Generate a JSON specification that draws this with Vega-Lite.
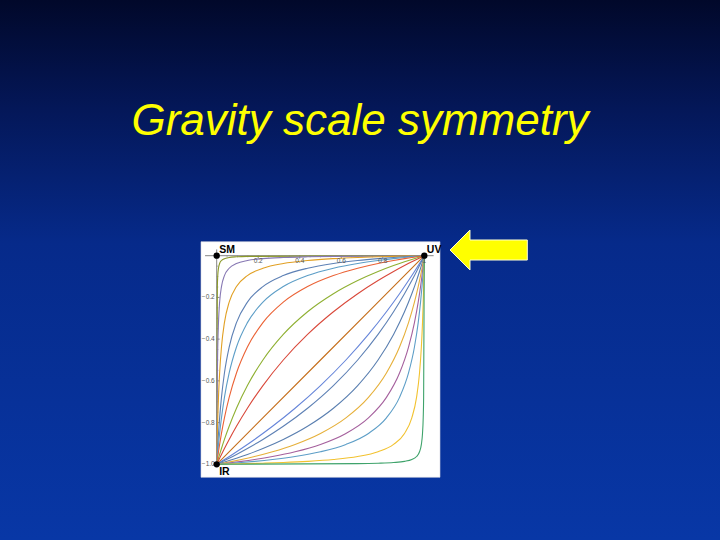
{
  "$schema": "https://vega.github.io/schema/vega-lite/v6.json",
  "width": 720,
  "height": 540,
  "autosize": {"type": "fit", "contains": "padding"},
  "padding": 0,
  "background": "#06207a",
  "view": {
    "stroke": null,
    "fill": {
      "gradient": "linear", "x1": 0, "y1": 0, "x2": 0, "y2": 1,
      "stops": [
        {"offset": 0, "color": "#01082a"},
        {"offset": 0.2, "color": "#041758"},
        {"offset": 0.45, "color": "#062a8a"},
        {"offset": 1, "color": "#0837a6"}
      ]
    }
  },
  "title": {
    "text": "Gravity scale symmetry",
    "anchor": "middle",
    "frame": "group",
    "offset": -179,
    "baseline": "alphabetic",
    "font": "Liberation Sans",
    "fontSize": 44,
    "fontStyle": "italic",
    "fontWeight": "normal",
    "color": "#FFFF00"
  },
  "datasets": {
    "panel": [{"x": -0.0756, "x2": 1.0756, "y": 0.0671, "y2": -1.0623}],
    "axislines": [
      {"x": -0.056, "x2": 1.045, "y": 0, "y2": 0},
      {"x": 0, "x2": 0, "y": 0.03, "y2": -1.0}
    ],
    "xmajor": [{"v":0.2,"t":"0.2"},{"v":0.4,"t":"0.4"},{"v":0.6,"t":"0.6"},{"v":0.8,"t":"0.8"},{"v":1,"t":"1"}],
    "xminor": [{"v":0.05},{"v":0.1},{"v":0.15},{"v":0.25},{"v":0.3},{"v":0.35},{"v":0.45},{"v":0.5},{"v":0.55},{"v":0.65},{"v":0.7},{"v":0.75},{"v":0.85},{"v":0.9},{"v":0.95}],
    "ymajor": [{"v":-0.2,"t":"−0.2"},{"v":-0.4,"t":"−0.4"},{"v":-0.6,"t":"−0.6"},{"v":-0.8,"t":"−0.8"},{"v":-1,"t":"−1.0"}],
    "yminor": [{"v":-0.05},{"v":-0.1},{"v":-0.15},{"v":-0.25},{"v":-0.3},{"v":-0.35},{"v":-0.45},{"v":-0.5},{"v":-0.55},{"v":-0.65},{"v":-0.7},{"v":-0.75},{"v":-0.85},{"v":-0.9},{"v":-0.95}],
    "fixed": [
      {"n": "SM", "x": 0, "y": 0},
      {"n": "UV", "x": 1, "y": 0},
      {"n": "IR", "x": 0, "y": -1}
    ],
    "arrow": [{"n": "arrow", "x": 1.31, "y": 0.0273}],
    "curves": [
      {"c":"u1","x":0,"y":-1},{"c":"u1","x":0.0032,"y":-0.1480},{"c":"u1","x":0.0052,"y":-0.0953},{"c":"u1","x":0.0086,"y":-0.0601},{"c":"u1","x":0.0141,"y":-0.0373},{"c":"u1","x":0.0230,"y":-0.0230},{"c":"u1","x":0.0373,"y":-0.0141},{"c":"u1","x":0.0601,"y":-0.0086},{"c":"u1","x":0.0953,"y":-0.0052},{"c":"u1","x":0.1480,"y":-0.0032},{"c":"u1","x":1,"y":0},

      {"c":"u2","x":0,"y":-1},{"c":"u2","x":0.0032,"y":-0.5622},{"c":"u2","x":0.0052,"y":-0.4378},{"c":"u2","x":0.0086,"y":-0.3208},{"c":"u2","x":0.0141,"y":-0.2227},{"c":"u2","x":0.0230,"y":-0.1480},{"c":"u2","x":0.0373,"y":-0.0953},{"c":"u2","x":0.0601,"y":-0.0601},{"c":"u2","x":0.0953,"y":-0.0373},{"c":"u2","x":0.1480,"y":-0.0230},{"c":"u2","x":0.2227,"y":-0.0141},{"c":"u2","x":0.3208,"y":-0.0086},{"c":"u2","x":0.4378,"y":-0.0052},{"c":"u2","x":0.5622,"y":-0.0032},{"c":"u2","x":1,"y":0},

      {"c":"u3","x":0,"y":-1},{"c":"u3","x":0.0032,"y":-0.8520},{"c":"u3","x":0.0052,"y":-0.7773},{"c":"u3","x":0.0086,"y":-0.6792},{"c":"u3","x":0.0141,"y":-0.5622},{"c":"u3","x":0.0230,"y":-0.4378},{"c":"u3","x":0.0373,"y":-0.3208},{"c":"u3","x":0.0601,"y":-0.2227},{"c":"u3","x":0.0953,"y":-0.1480},{"c":"u3","x":0.1480,"y":-0.0953},{"c":"u3","x":0.2227,"y":-0.0601},{"c":"u3","x":0.3208,"y":-0.0373},{"c":"u3","x":0.4378,"y":-0.0230},{"c":"u3","x":0.5622,"y":-0.0141},{"c":"u3","x":0.6792,"y":-0.0086},{"c":"u3","x":0.7773,"y":-0.0052},{"c":"u3","x":0.8520,"y":-0.0032},{"c":"u3","x":1,"y":0},

      {"c":"u4","x":0,"y":-1},{"c":"u4","x":0.0032,"y":-0.9399},{"c":"u4","x":0.0052,"y":-0.9047},{"c":"u4","x":0.0086,"y":-0.8520},{"c":"u4","x":0.0141,"y":-0.7773},{"c":"u4","x":0.0230,"y":-0.6792},{"c":"u4","x":0.0373,"y":-0.5622},{"c":"u4","x":0.0601,"y":-0.4378},{"c":"u4","x":0.0953,"y":-0.3208},{"c":"u4","x":0.1480,"y":-0.2227},{"c":"u4","x":0.2227,"y":-0.1480},{"c":"u4","x":0.3208,"y":-0.0953},{"c":"u4","x":0.4378,"y":-0.0601},{"c":"u4","x":0.5622,"y":-0.0373},{"c":"u4","x":0.6792,"y":-0.0230},{"c":"u4","x":0.7773,"y":-0.0141},{"c":"u4","x":0.8520,"y":-0.0086},{"c":"u4","x":0.9047,"y":-0.0052},{"c":"u4","x":0.9399,"y":-0.0032},{"c":"u4","x":1,"y":0},

      {"c":"u5","x":0,"y":-1},{"c":"u5","x":0.0032,"y":-0.9627},{"c":"u5","x":0.0052,"y":-0.9399},{"c":"u5","x":0.0086,"y":-0.9047},{"c":"u5","x":0.0141,"y":-0.8520},{"c":"u5","x":0.0230,"y":-0.7773},{"c":"u5","x":0.0373,"y":-0.6792},{"c":"u5","x":0.0601,"y":-0.5622},{"c":"u5","x":0.0953,"y":-0.4378},{"c":"u5","x":0.1480,"y":-0.3208},{"c":"u5","x":0.2227,"y":-0.2227},{"c":"u5","x":0.3208,"y":-0.1480},{"c":"u5","x":0.4378,"y":-0.0953},{"c":"u5","x":0.5622,"y":-0.0601},{"c":"u5","x":0.6792,"y":-0.0373},{"c":"u5","x":0.7773,"y":-0.0230},{"c":"u5","x":0.8520,"y":-0.0141},{"c":"u5","x":0.9047,"y":-0.0086},{"c":"u5","x":0.9399,"y":-0.0052},{"c":"u5","x":0.9627,"y":-0.0032},{"c":"u5","x":1,"y":0},

      {"c":"u6","x":0,"y":-1},{"c":"u6","x":0.0032,"y":-0.9770},{"c":"u6","x":0.0052,"y":-0.9627},{"c":"u6","x":0.0086,"y":-0.9399},{"c":"u6","x":0.0141,"y":-0.9047},{"c":"u6","x":0.0230,"y":-0.8520},{"c":"u6","x":0.0373,"y":-0.7773},{"c":"u6","x":0.0601,"y":-0.6792},{"c":"u6","x":0.0953,"y":-0.5622},{"c":"u6","x":0.1480,"y":-0.4378},{"c":"u6","x":0.2227,"y":-0.3208},{"c":"u6","x":0.3208,"y":-0.2227},{"c":"u6","x":0.4378,"y":-0.1480},{"c":"u6","x":0.5622,"y":-0.0953},{"c":"u6","x":0.6792,"y":-0.0601},{"c":"u6","x":0.7773,"y":-0.0373},{"c":"u6","x":0.8520,"y":-0.0230},{"c":"u6","x":0.9047,"y":-0.0141},{"c":"u6","x":0.9399,"y":-0.0086},{"c":"u6","x":0.9627,"y":-0.0052},{"c":"u6","x":0.9770,"y":-0.0032},{"c":"u6","x":1,"y":0},

      {"c":"u7","x":0,"y":-1},{"c":"u7","x":0.0032,"y":-0.9890},{"c":"u7","x":0.0052,"y":-0.9820},{"c":"u7","x":0.0086,"y":-0.9707},{"c":"u7","x":0.0141,"y":-0.9526},{"c":"u7","x":0.0230,"y":-0.9241},{"c":"u7","x":0.0373,"y":-0.8808},{"c":"u7","x":0.0601,"y":-0.8176},{"c":"u7","x":0.0953,"y":-0.7311},{"c":"u7","x":0.1480,"y":-0.6225},{"c":"u7","x":0.2227,"y":-0.5},{"c":"u7","x":0.3208,"y":-0.3775},{"c":"u7","x":0.4378,"y":-0.2689},{"c":"u7","x":0.5622,"y":-0.1824},{"c":"u7","x":0.6792,"y":-0.1192},{"c":"u7","x":0.7773,"y":-0.0759},{"c":"u7","x":0.8520,"y":-0.0474},{"c":"u7","x":0.9047,"y":-0.0293},{"c":"u7","x":0.9399,"y":-0.0180},{"c":"u7","x":0.9627,"y":-0.0110},{"c":"u7","x":0.9770,"y":-0.0067},{"c":"u7","x":0.9859,"y":-0.0041},{"c":"u7","x":1,"y":0},

      {"c":"u8","x":0,"y":-1},{"c":"u8","x":0.0052,"y":-0.9890},{"c":"u8","x":0.0086,"y":-0.9820},{"c":"u8","x":0.0141,"y":-0.9707},{"c":"u8","x":0.0230,"y":-0.9526},{"c":"u8","x":0.0373,"y":-0.9241},{"c":"u8","x":0.0601,"y":-0.8808},{"c":"u8","x":0.0953,"y":-0.8176},{"c":"u8","x":0.1480,"y":-0.7311},{"c":"u8","x":0.2227,"y":-0.6225},{"c":"u8","x":0.3208,"y":-0.5},{"c":"u8","x":0.4378,"y":-0.3775},{"c":"u8","x":0.5622,"y":-0.2689},{"c":"u8","x":0.6792,"y":-0.1824},{"c":"u8","x":0.7773,"y":-0.1192},{"c":"u8","x":0.8520,"y":-0.0759},{"c":"u8","x":0.9047,"y":-0.0474},{"c":"u8","x":0.9399,"y":-0.0293},{"c":"u8","x":0.9627,"y":-0.0180},{"c":"u8","x":0.9770,"y":-0.0110},{"c":"u8","x":0.9859,"y":-0.0067},{"c":"u8","x":1,"y":0},

      {"c":"m","x":0,"y":-1},{"c":"m","x":0.5,"y":-0.5},{"c":"m","x":1,"y":0},

      {"c":"l1","x":0,"y":-1},{"c":"l1","x":0.0110,"y":-0.9933},{"c":"l1","x":0.0180,"y":-0.9890},{"c":"l1","x":0.0293,"y":-0.9820},{"c":"l1","x":0.0474,"y":-0.9707},{"c":"l1","x":0.0759,"y":-0.9526},{"c":"l1","x":0.1192,"y":-0.9241},{"c":"l1","x":0.1824,"y":-0.8808},{"c":"l1","x":0.2689,"y":-0.8176},{"c":"l1","x":0.3775,"y":-0.7311},{"c":"l1","x":0.5,"y":-0.6225},{"c":"l1","x":0.6225,"y":-0.5},{"c":"l1","x":0.7311,"y":-0.3775},{"c":"l1","x":0.8176,"y":-0.2689},{"c":"l1","x":0.8808,"y":-0.1824},{"c":"l1","x":0.9241,"y":-0.1192},{"c":"l1","x":0.9526,"y":-0.0759},{"c":"l1","x":0.9707,"y":-0.0474},{"c":"l1","x":0.9820,"y":-0.0293},{"c":"l1","x":0.9890,"y":-0.0180},{"c":"l1","x":0.9933,"y":-0.0110},{"c":"l1","x":1,"y":0},

      {"c":"l2","x":0,"y":-1},{"c":"l2","x":0.0141,"y":-0.9933},{"c":"l2","x":0.0230,"y":-0.9890},{"c":"l2","x":0.0373,"y":-0.9820},{"c":"l2","x":0.0601,"y":-0.9707},{"c":"l2","x":0.0953,"y":-0.9526},{"c":"l2","x":0.1480,"y":-0.9241},{"c":"l2","x":0.2227,"y":-0.8808},{"c":"l2","x":0.3208,"y":-0.8176},{"c":"l2","x":0.4378,"y":-0.7311},{"c":"l2","x":0.5622,"y":-0.6225},{"c":"l2","x":0.6792,"y":-0.5},{"c":"l2","x":0.7773,"y":-0.3775},{"c":"l2","x":0.8520,"y":-0.2689},{"c":"l2","x":0.9047,"y":-0.1824},{"c":"l2","x":0.9399,"y":-0.1192},{"c":"l2","x":0.9627,"y":-0.0759},{"c":"l2","x":0.9770,"y":-0.0474},{"c":"l2","x":0.9859,"y":-0.0293},{"c":"l2","x":0.9914,"y":-0.0180},{"c":"l2","x":0.9948,"y":-0.0110},{"c":"l2","x":1,"y":0},

      {"c":"l3","x":0,"y":-1},{"c":"l3","x":0.0141,"y":-0.9959},{"c":"l3","x":0.0230,"y":-0.9933},{"c":"l3","x":0.0373,"y":-0.9890},{"c":"l3","x":0.0601,"y":-0.9820},{"c":"l3","x":0.0953,"y":-0.9707},{"c":"l3","x":0.1480,"y":-0.9526},{"c":"l3","x":0.2227,"y":-0.9241},{"c":"l3","x":0.3208,"y":-0.8808},{"c":"l3","x":0.4378,"y":-0.8176},{"c":"l3","x":0.5622,"y":-0.7311},{"c":"l3","x":0.6792,"y":-0.6225},{"c":"l3","x":0.7773,"y":-0.5},{"c":"l3","x":0.8520,"y":-0.3775},{"c":"l3","x":0.9047,"y":-0.2689},{"c":"l3","x":0.9399,"y":-0.1824},{"c":"l3","x":0.9627,"y":-0.1192},{"c":"l3","x":0.9770,"y":-0.0759},{"c":"l3","x":0.9859,"y":-0.0474},{"c":"l3","x":0.9914,"y":-0.0293},{"c":"l3","x":0.9948,"y":-0.0180},{"c":"l3","x":0.9968,"y":-0.0110},{"c":"l3","x":1,"y":0},

      {"c":"l4","x":0,"y":-1},{"c":"l4","x":0.0180,"y":-0.9968},{"c":"l4","x":0.0293,"y":-0.9948},{"c":"l4","x":0.0474,"y":-0.9914},{"c":"l4","x":0.0759,"y":-0.9859},{"c":"l4","x":0.1192,"y":-0.9770},{"c":"l4","x":0.1824,"y":-0.9627},{"c":"l4","x":0.2689,"y":-0.9399},{"c":"l4","x":0.3775,"y":-0.9047},{"c":"l4","x":0.5,"y":-0.8520},{"c":"l4","x":0.6225,"y":-0.7773},{"c":"l4","x":0.7311,"y":-0.6792},{"c":"l4","x":0.8176,"y":-0.5622},{"c":"l4","x":0.8808,"y":-0.4378},{"c":"l4","x":0.9241,"y":-0.3208},{"c":"l4","x":0.9526,"y":-0.2227},{"c":"l4","x":0.9707,"y":-0.1480},{"c":"l4","x":0.9820,"y":-0.0953},{"c":"l4","x":0.9890,"y":-0.0601},{"c":"l4","x":0.9933,"y":-0.0373},{"c":"l4","x":0.9959,"y":-0.0230},{"c":"l4","x":1,"y":0},

      {"c":"l5","x":0,"y":-1},{"c":"l5","x":0.0293,"y":-0.9968},{"c":"l5","x":0.0474,"y":-0.9948},{"c":"l5","x":0.0759,"y":-0.9914},{"c":"l5","x":0.1192,"y":-0.9859},{"c":"l5","x":0.1824,"y":-0.9770},{"c":"l5","x":0.2689,"y":-0.9627},{"c":"l5","x":0.3775,"y":-0.9399},{"c":"l5","x":0.5,"y":-0.9047},{"c":"l5","x":0.6225,"y":-0.8520},{"c":"l5","x":0.7311,"y":-0.7773},{"c":"l5","x":0.8176,"y":-0.6792},{"c":"l5","x":0.8808,"y":-0.5622},{"c":"l5","x":0.9241,"y":-0.4378},{"c":"l5","x":0.9526,"y":-0.3208},{"c":"l5","x":0.9707,"y":-0.2227},{"c":"l5","x":0.9820,"y":-0.1480},{"c":"l5","x":0.9890,"y":-0.0953},{"c":"l5","x":0.9933,"y":-0.0601},{"c":"l5","x":0.9959,"y":-0.0373},{"c":"l5","x":1,"y":0},

      {"c":"l6","x":0,"y":-1},{"c":"l6","x":0.0474,"y":-0.9968},{"c":"l6","x":0.0759,"y":-0.9948},{"c":"l6","x":0.1192,"y":-0.9914},{"c":"l6","x":0.1824,"y":-0.9859},{"c":"l6","x":0.2689,"y":-0.9770},{"c":"l6","x":0.3775,"y":-0.9627},{"c":"l6","x":0.5,"y":-0.9399},{"c":"l6","x":0.6225,"y":-0.9047},{"c":"l6","x":0.7311,"y":-0.8520},{"c":"l6","x":0.8176,"y":-0.7773},{"c":"l6","x":0.8808,"y":-0.6792},{"c":"l6","x":0.9241,"y":-0.5622},{"c":"l6","x":0.9526,"y":-0.4378},{"c":"l6","x":0.9707,"y":-0.3208},{"c":"l6","x":0.9820,"y":-0.2227},{"c":"l6","x":0.9890,"y":-0.1480},{"c":"l6","x":0.9933,"y":-0.0953},{"c":"l6","x":0.9959,"y":-0.0601},{"c":"l6","x":1,"y":0},

      {"c":"l7","x":0,"y":-1},{"c":"l7","x":0.1480,"y":-0.9968},{"c":"l7","x":0.2227,"y":-0.9948},{"c":"l7","x":0.3208,"y":-0.9914},{"c":"l7","x":0.4378,"y":-0.9859},{"c":"l7","x":0.5622,"y":-0.9770},{"c":"l7","x":0.6792,"y":-0.9627},{"c":"l7","x":0.7773,"y":-0.9399},{"c":"l7","x":0.8520,"y":-0.9047},{"c":"l7","x":0.9047,"y":-0.8520},{"c":"l7","x":0.9399,"y":-0.7773},{"c":"l7","x":0.9627,"y":-0.6792},{"c":"l7","x":0.9770,"y":-0.5622},{"c":"l7","x":0.9859,"y":-0.4378},{"c":"l7","x":0.9914,"y":-0.3208},{"c":"l7","x":0.9948,"y":-0.2227},{"c":"l7","x":0.9968,"y":-0.1480},{"c":"l7","x":1,"y":0},

      {"c":"l8","x":0,"y":-1},{"c":"l8","x":0.6792,"y":-0.9968},{"c":"l8","x":0.7773,"y":-0.9948},{"c":"l8","x":0.8520,"y":-0.9914},{"c":"l8","x":0.9047,"y":-0.9859},{"c":"l8","x":0.9399,"y":-0.9770},{"c":"l8","x":0.9627,"y":-0.9627},{"c":"l8","x":0.9770,"y":-0.9399},{"c":"l8","x":0.9859,"y":-0.9047},{"c":"l8","x":0.9914,"y":-0.8520},{"c":"l8","x":0.9948,"y":-0.7773},{"c":"l8","x":0.9968,"y":-0.6792},{"c":"l8","x":1,"y":0}
    ]
  },
  "layer": [
    {
      "data": {"name": "panel"},
      "mark": {"type": "rect", "fill": "#ffffff", "stroke": "#d8d8e0", "strokeWidth": 0.6},
      "encoding": {
        "x": {"field": "x", "type": "quantitative", "scale": {"domain": [-1.0438, 2.4244], "nice": false, "zero": false}, "axis": null},
        "x2": {"field": "x2"},
        "y": {"field": "y", "type": "quantitative", "scale": {"domain": [-1.3629, 1.2258], "nice": false, "zero": false}, "axis": null},
        "y2": {"field": "y2"}
      }
    },
    {
      "data": {"name": "axislines"},
      "mark": {"type": "rule", "color": "#666666", "strokeWidth": 0.8},
      "encoding": {
        "x": {"field": "x", "type": "quantitative", "axis": null},
        "x2": {"field": "x2"},
        "y": {"field": "y", "type": "quantitative", "axis": null},
        "y2": {"field": "y2"}
      }
    },
    {
      "data": {"name": "xmajor"},
      "mark": {"type": "rule", "color": "#555555", "strokeWidth": 0.7},
      "encoding": {
        "x": {"field": "v", "type": "quantitative", "axis": null},
        "y": {"datum": 0, "type": "quantitative", "axis": null},
        "y2": {"datum": -0.014}
      }
    },
    {
      "data": {"name": "xminor"},
      "mark": {"type": "rule", "color": "#777777", "strokeWidth": 0.5},
      "encoding": {
        "x": {"field": "v", "type": "quantitative", "axis": null},
        "y": {"datum": 0, "type": "quantitative", "axis": null},
        "y2": {"datum": -0.008}
      }
    },
    {
      "data": {"name": "ymajor"},
      "mark": {"type": "rule", "color": "#555555", "strokeWidth": 0.7},
      "encoding": {
        "y": {"field": "v", "type": "quantitative", "axis": null},
        "x": {"datum": 0, "type": "quantitative", "axis": null},
        "x2": {"datum": 0.014}
      }
    },
    {
      "data": {"name": "yminor"},
      "mark": {"type": "rule", "color": "#777777", "strokeWidth": 0.5},
      "encoding": {
        "y": {"field": "v", "type": "quantitative", "axis": null},
        "x": {"datum": 0, "type": "quantitative", "axis": null},
        "x2": {"datum": 0.008}
      }
    },
    {
      "data": {"name": "curves"},
      "mark": {"type": "line", "interpolate": "monotone", "strokeWidth": 1.1, "clip": false},
      "encoding": {
        "x": {"field": "x", "type": "quantitative", "axis": null},
        "y": {"field": "y", "type": "quantitative", "axis": null},
        "color": {
          "field": "c", "type": "nominal", "legend": null,
          "scale": {
            "domain": ["u1","u2","u3","u4","u5","u6","u7","u8","m","l1","l2","l3","l4","l5","l6","l7","l8"],
            "range": ["#8c9a2a","#8778B3","#E1A024","#5E81B5","#5D9EC7","#EB6235","#8FB032","#D9483A","#C56E1A","#6685D9","#5E81B5","#5A7FB0","#E6B03A","#A5609D","#5D9EC7","#F2C230","#3FA36B"]
          }
        }
      }
    },
    {
      "data": {"name": "xmajor"},
      "mark": {"type": "text", "align": "center", "baseline": "top", "dy": 2, "font": "Liberation Sans", "fontSize": 6.5, "color": "#555555"},
      "encoding": {
        "x": {"field": "v", "type": "quantitative", "axis": null},
        "y": {"datum": 0, "type": "quantitative", "axis": null},
        "text": {"field": "t"}
      }
    },
    {
      "data": {"name": "ymajor"},
      "mark": {"type": "text", "align": "right", "baseline": "middle", "dx": -2, "font": "Liberation Sans", "fontSize": 6.5, "color": "#555555"},
      "encoding": {
        "x": {"datum": 0, "type": "quantitative", "axis": null},
        "y": {"field": "v", "type": "quantitative", "axis": null},
        "text": {"field": "t"}
      }
    },
    {
      "data": {"name": "fixed"},
      "mark": {"type": "circle", "size": 40, "color": "#000000", "opacity": 1},
      "encoding": {
        "x": {"field": "x", "type": "quantitative", "axis": null},
        "y": {"field": "y", "type": "quantitative", "axis": null}
      }
    },
    {
      "data": {"name": "fixed"},
      "transform": [{"filter": "datum.n != 'IR'"}],
      "mark": {"type": "text", "align": "left", "baseline": "alphabetic", "dx": 2.5, "dy": -3, "font": "Liberation Sans", "fontWeight": "bold", "fontSize": 10.5, "color": "#000000"},
      "encoding": {
        "x": {"field": "x", "type": "quantitative", "axis": null},
        "y": {"field": "y", "type": "quantitative", "axis": null},
        "text": {"field": "n"}
      }
    },
    {
      "data": {"name": "fixed"},
      "transform": [{"filter": "datum.n == 'IR'"}],
      "mark": {"type": "text", "align": "left", "baseline": "alphabetic", "dx": 2.5, "dy": 10.5, "font": "Liberation Sans", "fontWeight": "bold", "fontSize": 10.5, "color": "#000000"},
      "encoding": {
        "x": {"field": "x", "type": "quantitative", "axis": null},
        "y": {"field": "y", "type": "quantitative", "axis": null},
        "text": {"field": "n"}
      }
    },
    {
      "data": {"name": "arrow"},
      "mark": {
        "type": "point", "filled": true, "opacity": 1, "size": 5975,
        "shape": "M -1 0 L -0.483 -0.517 L -0.483 -0.259 L 1 -0.259 L 1 0.259 L -0.483 0.259 L -0.483 0.517 Z",
        "fill": "#FFFF00", "stroke": "#FFFFD0", "strokeWidth": 1
      },
      "encoding": {
        "x": {"field": "x", "type": "quantitative", "axis": null},
        "y": {"field": "y", "type": "quantitative", "axis": null}
      }
    }
  ]
}
